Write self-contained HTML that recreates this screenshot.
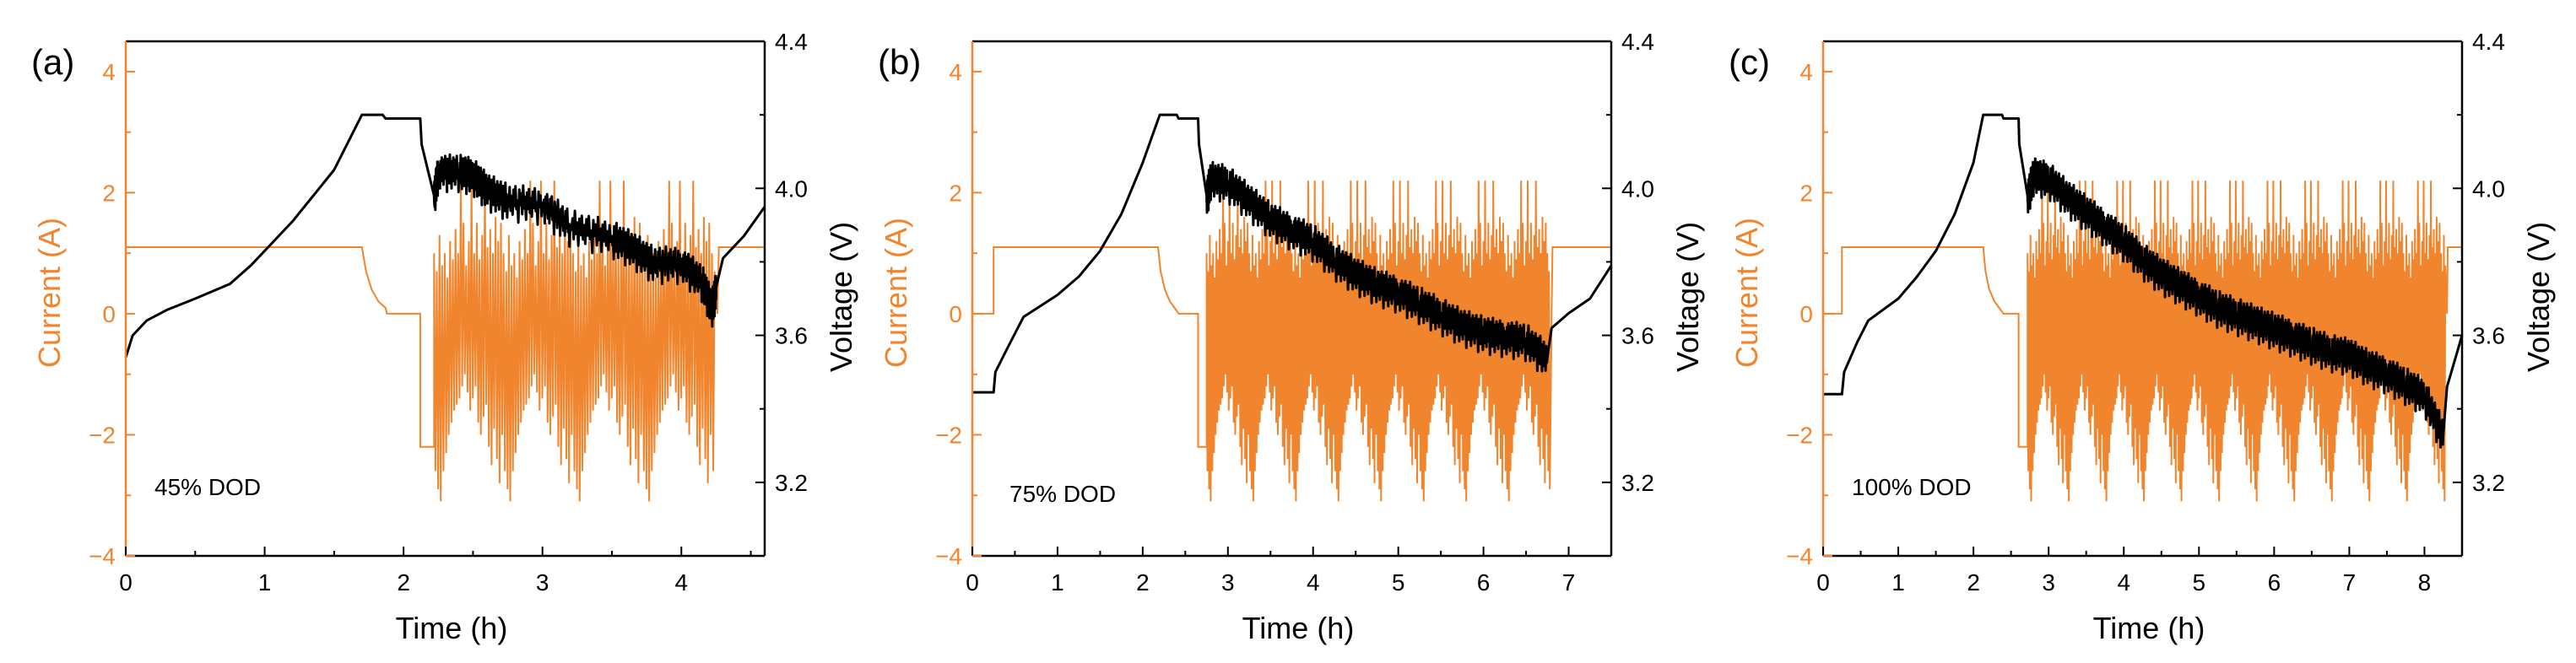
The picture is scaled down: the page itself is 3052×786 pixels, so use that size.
<!DOCTYPE html>
<html><head><meta charset="utf-8"><style>
html,body{margin:0;padding:0;background:#fff;}
svg{display:block;}
text{font-family:"Liberation Sans",Arial,sans-serif;}
</style></head>
<body>
<svg id="fig" width="3052" height="786" viewBox="0 0 3052 786" xmlns="http://www.w3.org/2000/svg"></svg>
<script>
// ---- data ----
const panelLetters = ["(a)", "(b)", "(c)"];
const dodLabels = ["45% DOD", "75% DOD", "100% DOD"];
const timeMax = [4.6, 7.5, 8.5];
const currentTicks = [-4, -2, 0, 2, 4];
const voltageTicks = [3.2, 3.6, 4.0, 4.4];
// current step segments [t, I]
const currentStepsA = [[0,1.1],[1.7,1.1],[1.73,0.7],[1.77,0.4],[1.82,0.2],[1.87,0.1],[1.88,0],[2.12,0],[2.12,-2.2],[2.22,-2.2]];
const currentStepsB = [[0,0],[0.25,0],[0.25,1.1],[2.18,1.1],[2.21,0.7],[2.26,0.4],[2.32,0.2],[2.4,0.05],[2.42,0],[2.65,0],[2.65,-2.2],[2.75,-2.2]];
const currentStepsC = [[0,0],[0.25,0],[0.25,1.1],[2.13,1.1],[2.16,0.7],[2.21,0.4],[2.28,0.2],[2.37,0.05],[2.4,0],[2.6,0],[2.6,-2.2],[2.72,-2.2]];
const driveStart = [2.22, 2.75, 2.72];
const driveEnd = [4.24, 6.78, 8.28];
const restCurrent = [1.1, 1.1, 1.1];
// one 0.5 h drive-cycle current profile (A)
const driveProfile = [-3.1,0.8,-2.6,1.0,-2.3,0.6,-2.0,1.2,-1.8,0.9,-1.6,1.4,-1.5,1.0,-1.4,2.2,-1.2,1.5,-1.0,0.8,-1.3,1.2,-1.6,2.2,-1.4,1.0,-1.2,1.5,-1.8,0.9,-2.0,1.3,-1.7,2.2,-1.5,1.1,-2.2,1.4,-2.5,1.0,-1.9,1.6,-2.4,1.2,-2.8,1.5,-2.0,1.0,-2.6,0.7,-2.9,1.3];
const cycleHours = 0.5;
const cycleOffset = [0.45, 0.45, 0.45];
// voltage curves [t, V]
const voltageA = [[0,3.54],[0.05,3.6],[0.15,3.64],[0.3,3.67],[0.5,3.7],[0.75,3.74],[0.9,3.79],[1.0,3.83],[1.2,3.91],[1.5,4.05],[1.7,4.2],[1.85,4.2],[1.87,4.19],[2.12,4.19],[2.13,4.12],[2.22,3.98],[2.25,4.05],[2.4,4.05],[2.5,4.04],[2.6,4.0],[2.75,3.97],[3.0,3.96],[3.2,3.9],[3.5,3.87],[3.65,3.84],[3.8,3.80],[4.0,3.80],[4.15,3.75],[4.22,3.68],[4.25,3.73],[4.3,3.81],[4.45,3.87],[4.6,3.95]];
const voltageB = [[0,3.445],[0.25,3.445],[0.27,3.5],[0.4,3.56],[0.6,3.65],[0.8,3.68],[1.0,3.71],[1.25,3.76],[1.5,3.83],[1.75,3.93],[2.0,4.07],[2.2,4.2],[2.4,4.2],[2.42,4.19],[2.65,4.19],[2.66,4.12],[2.75,3.98],[2.8,4.03],[3.0,4.02],[3.25,3.97],[3.5,3.92],[3.75,3.89],[4.0,3.86],[4.25,3.81],[4.5,3.77],[4.75,3.74],[5.0,3.72],[5.25,3.69],[5.5,3.66],[5.75,3.63],[6.0,3.61],[6.25,3.6],[6.5,3.59],[6.75,3.54],[6.8,3.62],[7.0,3.66],[7.25,3.7],[7.5,3.79]];
const voltageC = [[0,3.44],[0.25,3.44],[0.28,3.5],[0.45,3.58],[0.6,3.64],[0.8,3.67],[1.0,3.7],[1.25,3.76],[1.5,3.83],[1.75,3.93],[2.0,4.07],[2.13,4.2],[2.38,4.2],[2.4,4.19],[2.6,4.19],[2.61,4.12],[2.72,3.98],[2.8,4.04],[3.0,4.03],[3.25,3.98],[3.5,3.94],[3.75,3.9],[4.0,3.86],[4.25,3.81],[4.5,3.77],[4.75,3.74],[5.0,3.71],[5.25,3.68],[5.5,3.66],[5.75,3.64],[6.0,3.62],[6.25,3.6],[6.5,3.58],[6.75,3.56],[7.0,3.55],[7.25,3.52],[7.5,3.5],[7.75,3.47],[8.0,3.44],[8.25,3.33],[8.3,3.46],[8.5,3.6]];
// voltage noise during drive (V), read as typical band jitter
const voltageJitter = [0.024,-0.02,0.034,-0.03,0.01,-0.04,0.028,-0.016,0.038,-0.024,0.0,-0.06,0.03,-0.012,0.02,-0.036,0.042,-0.02,0.012,-0.05];

// ---- layout ----
const svg = document.getElementById('fig');
const NS = 'http://www.w3.org/2000/svg';
const panelLeft = [149, 1152, 2160];
const plotW = 757, plotTop = 49, plotBot = 659;
const orange = '#F0852D';
function mk(tag, attrs, parent){
  const e = document.createElementNS(NS, tag);
  for (const k in attrs) e.setAttribute(k, attrs[k]);
  (parent||svg).appendChild(e); return e;
}
const currentSteps = [currentStepsA, currentStepsB, currentStepsC];
const voltages = [voltageA, voltageB, voltageC];

for (let p = 0; p < 3; p++) {
  const L = panelLeft[p], R = L + plotW;
  const g = mk('g', {});
  
  
  const xs = t => L + t / timeMax[p] * plotW;
  const yI = i => plotTop + (4.5 - i) / 8.5 * (plotBot - plotTop);
  const yV = v => plotTop + (4.4 - v) / 1.4 * (plotBot - plotTop);

  // current series
  let pts = currentSteps[p].map(d => [xs(d[0]), yI(d[1])]);
  const t0 = driveStart[p], t1 = driveEnd[p];
  const n = driveProfile.length, dt = cycleHours / n;
  let k = Math.round(cycleOffset[p] / dt);
  for (let t = t0; t <= t1; t += dt, k++) {
    pts.push([xs(t), yI(driveProfile[((k % n) + n) % n])]);
  }
  pts.push([xs(t1 + 0.02), yI(0)]);
  pts.push([xs(t1 + 0.03), yI(restCurrent[p])]);
  pts.push([xs(timeMax[p]), yI(restCurrent[p])]);
  const cur = mk('polyline', {points: pts.map(q => q[0].toFixed(1) + ',' + q[1].toFixed(1)).join(' '), fill: 'none', stroke: orange, 'stroke-width': 2, 'stroke-linejoin': 'miter'}, g);
  
  

  // voltage series (smooth + jitter during drive)
  const vd = voltages[p];
  let vp = [];
  for (let i = 0; i < vd.length; i++) {
    vp.push([xs(vd[i][0]), yV(vd[i][1])]);
    if (i < vd.length - 1 && vd[i][0] >= t0 && vd[i+1][0] <= t1 + 0.01) {
      const steps = 36;
      for (let s = 1; s < steps; s++) {
        const f = s / steps;
        const t = vd[i][0] + f * (vd[i+1][0] - vd[i][0]);
        const v = vd[i][1] + f * (vd[i+1][1] - vd[i][1]) + voltageJitter[(i * steps + s) % voltageJitter.length];
        vp.push([xs(t), yV(v)]);
      }
    }
  }
  const vol = mk('polyline', {points: vp.map(q => q[0].toFixed(1) + ',' + q[1].toFixed(1)).join(' '), fill: 'none', stroke: '#000', 'stroke-width': 3, 'stroke-linejoin': 'round'}, g);
  
  

  // frame
  const top = mk('line', {x1: L, y1: plotTop, x2: R, y2: plotTop, stroke: '#000', 'stroke-width': 2.5}, g);
  
  
  const rt = mk('line', {x1: R, y1: plotTop, x2: R, y2: plotBot, stroke: '#000', 'stroke-width': 2.5}, g);
  
  
  const bt = mk('line', {x1: L, y1: plotBot, x2: R, y2: plotBot, stroke: '#000', 'stroke-width': 2.5}, g);
  
  
  const lf = mk('line', {x1: L, y1: plotTop, x2: L, y2: plotBot, stroke: orange, 'stroke-width': 2.5}, g);
  
  

  // x ticks
  for (let t = 0; t <= timeMax[p] + 1e-6; t += 0.5) {
    const major = Math.abs(t - Math.round(t)) < 1e-6;
    mk('line', {x1: xs(t), y1: plotBot, x2: xs(t), y2: plotBot - (major ? 11 : 6), stroke: '#000', 'stroke-width': 2}, g);
    if (major) {
      const tx = mk('text', {x: xs(t), y: 700, 'font-size': 28, 'text-anchor': 'middle', fill: '#000'}, g);
      tx.textContent = String(Math.round(t));
      
      
    }
  }
  // left ticks
  for (let i = -4; i <= 4; i++) {
    const major = i % 2 === 0;
    mk('line', {x1: L, y1: yI(i), x2: L + (major ? 11 : 6), y2: yI(i), stroke: orange, 'stroke-width': 2}, g);
  }
  currentTicks.forEach(i => {
    const tx = mk('text', {x: L - 12, y: yI(i) + 10, 'font-size': 28, 'text-anchor': 'end', fill: orange}, g);
    tx.textContent = i < 0 ? '\u2212' + Math.abs(i) : String(i);
    
    
  });
  // right ticks
  for (let v = 3.0; v <= 4.4001; v += 0.2) {
    const major = Math.abs((v * 10) % 4) < 1e-6 || Math.abs((v * 10) % 4 - 4) < 1e-6;
    mk('line', {x1: R, y1: yV(v), x2: R - (major ? 11 : 6), y2: yV(v), stroke: '#000', 'stroke-width': 2}, g);
  }
  voltageTicks.forEach(v => {
    const tx = mk('text', {x: R + 12, y: yV(v) + 10, 'font-size': 28, 'text-anchor': 'start', fill: '#000'}, g);
    tx.textContent = v.toFixed(1);
    
    
  });
  // titles
  const xt = mk('text', {x: L + 386, y: 757, 'font-size': 36, 'text-anchor': 'middle', fill: '#000'}, g);
  xt.textContent = 'Time (h)';
  
  
  const yl = mk('text', {x: 0, y: 0, 'font-size': 36, 'text-anchor': 'middle', fill: orange, transform: `translate(${L - 78},347) rotate(-90)`}, g);
  yl.textContent = 'Current (A)';
  
  
  const yr = mk('text', {x: 0, y: 0, 'font-size': 36, 'text-anchor': 'middle', fill: '#000', transform: `translate(${R + 103},352) rotate(-90)`}, g);
  yr.textContent = 'Voltage (V)';
  
  
  const pl = mk('text', {x: L - 112, y: 88, 'font-size': 42, fill: '#000'}, g);
  pl.textContent = panelLetters[p];
  
  
  const dl = mk('text', {x: L + 34 + (p===1?10:0), y: 587 + (p===1?8:0), 'font-size': 28, fill: '#000'}, g);
  dl.textContent = dodLabels[p];
  
  
}
</script>
</body></html>
